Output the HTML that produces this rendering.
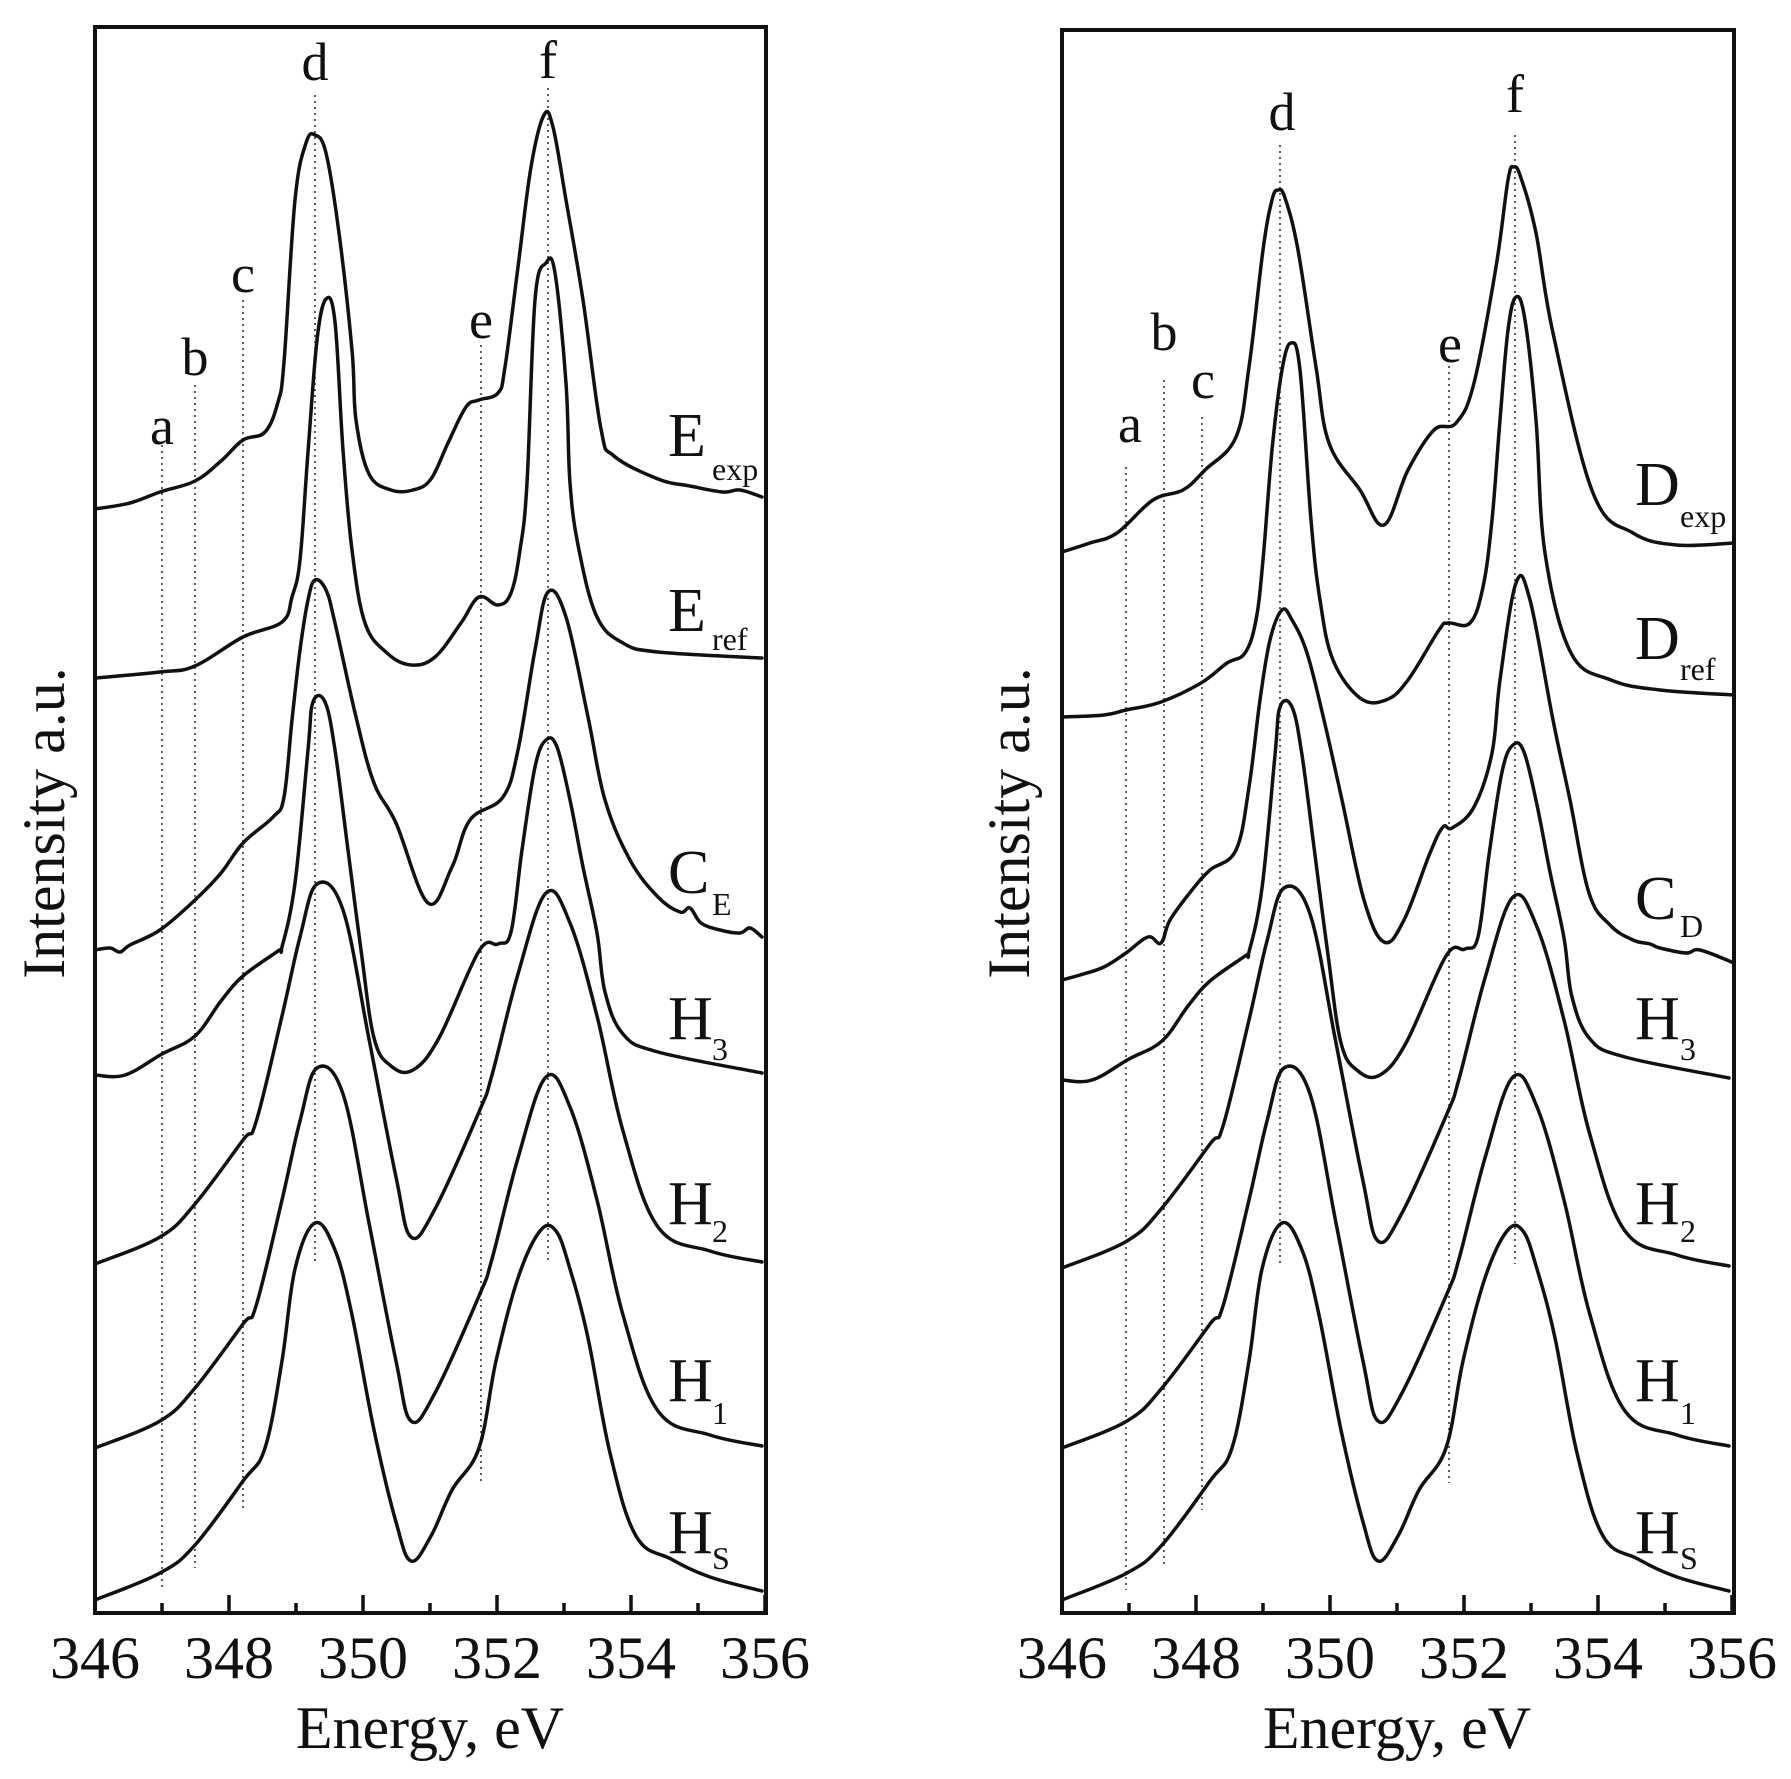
<!DOCTYPE html>
<html><head><meta charset="utf-8"><style>
html,body{margin:0;padding:0;background:#fff}
svg{display:block}
text{font-family:"Liberation Serif",serif;fill:#111}
.c{fill:none;stroke:#111;stroke-width:3.5;stroke-linejoin:round;stroke-linecap:round}
.dt{stroke:#333;stroke-width:1.6;stroke-dasharray:2 4}
.m{font-size:62px}
.s{font-size:32px}
.l{font-size:54px}
.t{font-size:60px}
</style></head><body>
<svg id="sv" width="1791" height="1779" viewBox="0 0 1791 1779" xmlns="http://www.w3.org/2000/svg">
<defs>
<g id="ticks">
<path d="M0,1613v-18M67,1613v-10M134,1613v-18M201,1613v-10M268,1613v-18M335,1613v-10M402,1613v-18M469,1613v-10M536,1613v-18M603,1613v-10M670,1613v-18" stroke="#111" stroke-width="3.5" fill="none"/>
<g class="t" text-anchor="middle">
<text x="0" y="1678">346</text><text x="134" y="1678">348</text><text x="268" y="1678">350</text>
<text x="402" y="1678">352</text><text x="536" y="1678">354</text><text x="670" y="1678">356</text>
<text x="335" y="1748">Energy, eV</text></g>
</g>
<polyline id="h3" class="c" points="95,1075 125,1075 162,1054 195,1036 221,1001 243,976 278,951 282,947 295,883 308,750 313,702 325,702 335,750 348,850 361,950 374,1038 391,1066 413,1070 439,1038 479,951 498,944 511,932 522,850 535,767 546,740 557,747 570,800 583,867 597,933 605,992 623,1034 658,1052 762,1073"/>
<polyline id="h1" class="c" points="95,1448 160,1421 195,1388 243,1324 256,1306 282,1200 300,1121 317,1068 343,1094 369,1223 396,1361 411,1421 435,1393 479,1296 492,1259 518,1158 546,1077 570,1107 597,1200 623,1315 658,1411 710,1435 762,1446"/>
<polyline id="hs" class="c" points="95,1600 160,1573 195,1545 243,1481 265,1448 282,1361 295,1269 315,1223 335,1250 352,1315 374,1430 396,1522 411,1561 431,1536 452,1490 479,1448 496,1361 518,1278 540,1231 556,1231 570,1269 588,1338 610,1453 636,1536 671,1559 710,1577 762,1591"/>
</defs>

<rect x="95" y="27" width="671" height="1586" fill="none" stroke="#111" stroke-width="4"/>
<g transform="translate(95,0)"><use href="#ticks"/></g>
<text class="t" transform="translate(64,823) rotate(-90)" text-anchor="middle">Intensity a.u.</text>
<g class="dt">
<line x1="162" y1="445" x2="162" y2="1590"/><line x1="195" y1="385" x2="195" y2="1568"/>
<line x1="243" y1="300" x2="243" y2="1510"/><line x1="315" y1="95" x2="315" y2="1264"/>
<line x1="481" y1="345" x2="481" y2="1483"/><line x1="548" y1="88" x2="548" y2="1264"/>
</g>
<g class="l" text-anchor="middle">
<text x="162" y="444">a</text><text x="195" y="375">b</text><text x="243" y="292">c</text>
<text x="315" y="80">d</text><text x="481" y="338">e</text><text x="548" y="78">f</text>
</g>
<polyline class="c" points="95,509 130,503 160,492 195,481 221,461 243,440 265,432 278,402 284,362 295,200 306,143 315,135 326,153 339,233 352,350 356,420 369,474 391,490 413,490 431,479 448,443 466,407 479,400 498,393 505,367 518,267 531,167 544,115 553,127 566,200 583,300 601,429 614,456 658,479 690,486 723,492 740,490 762,497"/>
<polyline class="c" points="95,678 160,672 195,666 243,637 282,622 292,597 300,560 308,452 317,340 326,299 335,322 343,450 352,550 365,623 387,653 411,665 435,657 461,623 479,597 498,605 511,593 520,550 527,483 535,300 546,263 555,273 566,383 570,483 579,550 597,617 623,643 658,652 762,658"/>
<polyline class="c" points="95,950 110,948 120,952 130,945 160,930 195,900 221,873 243,843 273,817 284,797 292,720 300,650 308,600 315,580 326,590 335,623 356,717 374,783 396,823 428,903 452,867 470,820 503,797 518,750 535,650 548,592 566,617 588,717 605,800 630,860 658,897 680,912 690,908 701,923 720,930 740,933 750,928 762,937"/>
<use href="#h3"/>
<use href="#h1" transform="translate(0,-184)"/>
<use href="#h1"/>
<use href="#hs"/>
<g>
<text class="m" x="668" y="456">E</text><text class="s" x="712" y="480">exp</text>
<text class="m" x="668" y="631">E</text><text class="s" x="712" y="650">ref</text>
<text class="m" x="668" y="893">C</text><text class="s" x="712" y="915">E</text>
<text class="m" x="668" y="1039">H</text><text class="s" x="712" y="1060">3</text>
<text class="m" x="668" y="1224">H</text><text class="s" x="712" y="1242">2</text>
<text class="m" x="668" y="1401">H</text><text class="s" x="712" y="1424">1</text>
<text class="m" x="668" y="1553">H</text><text class="s" x="712" y="1569">S</text>
</g>

<rect x="1062" y="30" width="672" height="1583" fill="none" stroke="#111" stroke-width="4"/>
<g transform="translate(1062,0)"><use href="#ticks"/></g>
<text class="t" transform="translate(1029,823) rotate(-90)" text-anchor="middle">Intensity a.u.</text>
<g class="dt">
<line x1="1126" y1="467" x2="1126" y2="1590"/><line x1="1164" y1="380" x2="1164" y2="1568"/>
<line x1="1202" y1="417" x2="1202" y2="1510"/><line x1="1280" y1="145" x2="1280" y2="1264"/>
<line x1="1449" y1="360" x2="1449" y2="1483"/><line x1="1515" y1="135" x2="1515" y2="1264"/>
</g>
<g class="l" text-anchor="middle">
<text x="1130" y="442">a</text><text x="1164" y="350">b</text><text x="1203" y="398">c</text>
<text x="1282" y="130">d</text><text x="1450" y="362">e</text><text x="1515" y="112">f</text>
</g>
<polyline class="c" points="1062,552 1090,543 1117,533 1153,500 1183,490 1205,470 1236,437 1249,367 1263,250 1272,200 1278,190 1285,198 1298,250 1316,367 1329,443 1360,490 1384,525 1408,470 1434,430 1456,423 1474,383 1496,267 1508,180 1514,167 1521,178 1536,233 1553,333 1593,493 1633,533 1677,545 1734,543"/>
<polyline class="c" points="1062,717 1104,715 1126,710 1161,702 1201,683 1227,663 1245,653 1256,620 1263,560 1272,450 1282,370 1291,343 1300,370 1311,520 1320,600 1333,660 1360,698 1386,700 1408,680 1439,630 1448,623 1470,623 1483,587 1492,520 1500,420 1508,330 1516,297 1525,320 1536,420 1545,553 1571,653 1611,680 1660,690 1734,695"/>
<polyline class="c" points="1062,980 1080,975 1104,967 1126,953 1148,937 1161,943 1170,920 1192,890 1210,870 1236,850 1249,787 1260,700 1270,640 1282,610 1292,620 1307,653 1324,720 1342,800 1364,900 1384,942 1404,920 1430,853 1443,827 1452,828 1474,807 1492,753 1500,680 1516,583 1530,600 1553,720 1570,800 1589,893 1610,925 1633,940 1650,944 1660,948 1686,953 1700,950 1734,963"/>
<use href="#h3" transform="translate(967,5)"/>
<use href="#h1" transform="translate(967,-180)"/>
<use href="#h1" transform="translate(967,0)"/>
<use href="#hs" transform="translate(967,0)"/>
<g>
<text class="m" x="1635" y="505">D</text><text class="s" x="1680" y="527">exp</text>
<text class="m" x="1635" y="659">D</text><text class="s" x="1680" y="680">ref</text>
<text class="m" x="1635" y="919">C</text><text class="s" x="1680" y="937">D</text>
<text class="m" x="1635" y="1039">H</text><text class="s" x="1680" y="1060">3</text>
<text class="m" x="1635" y="1224">H</text><text class="s" x="1680" y="1242">2</text>
<text class="m" x="1635" y="1401">H</text><text class="s" x="1680" y="1424">1</text>
<text class="m" x="1635" y="1553">H</text><text class="s" x="1680" y="1569">S</text>
</g>
</svg>
<script>
(function(){
var NS="http://www.w3.org/2000/svg";
var pls=document.querySelectorAll("polyline.c");
for(var i=0;i<pls.length;i++){
 var pl=pls[i];
 var nums=pl.getAttribute("points").trim().split(/[\s,]+/).map(Number);
 var p=[];for(var j=0;j<nums.length;j+=2)p.push([nums[j],nums[j+1]]);
 var d="M"+p[0][0]+","+p[0][1];
 var t=0.18;
 for(var k=0;k<p.length-1;k++){
  var p0=p[k>0?k-1:k],p1=p[k],p2=p[k+1],p3=p[k+2<p.length?k+2:k+1];
  var c1x=p1[0]+(p2[0]-p0[0])*t,c1y=p1[1]+(p2[1]-p0[1])*t;
  var c2x=p2[0]-(p3[0]-p1[0])*t,c2y=p2[1]-(p3[1]-p1[1])*t;
  d+="C"+c1x.toFixed(1)+","+c1y.toFixed(1)+" "+c2x.toFixed(1)+","+c2y.toFixed(1)+" "+p2[0]+","+p2[1];
 }
 var path=document.createElementNS(NS,"path");
 path.setAttribute("d",d);path.setAttribute("class","c");
 if(pl.id)path.setAttribute("id",pl.id);
 pl.parentNode.replaceChild(path,pl);
}
})();
</script>
</body></html>
